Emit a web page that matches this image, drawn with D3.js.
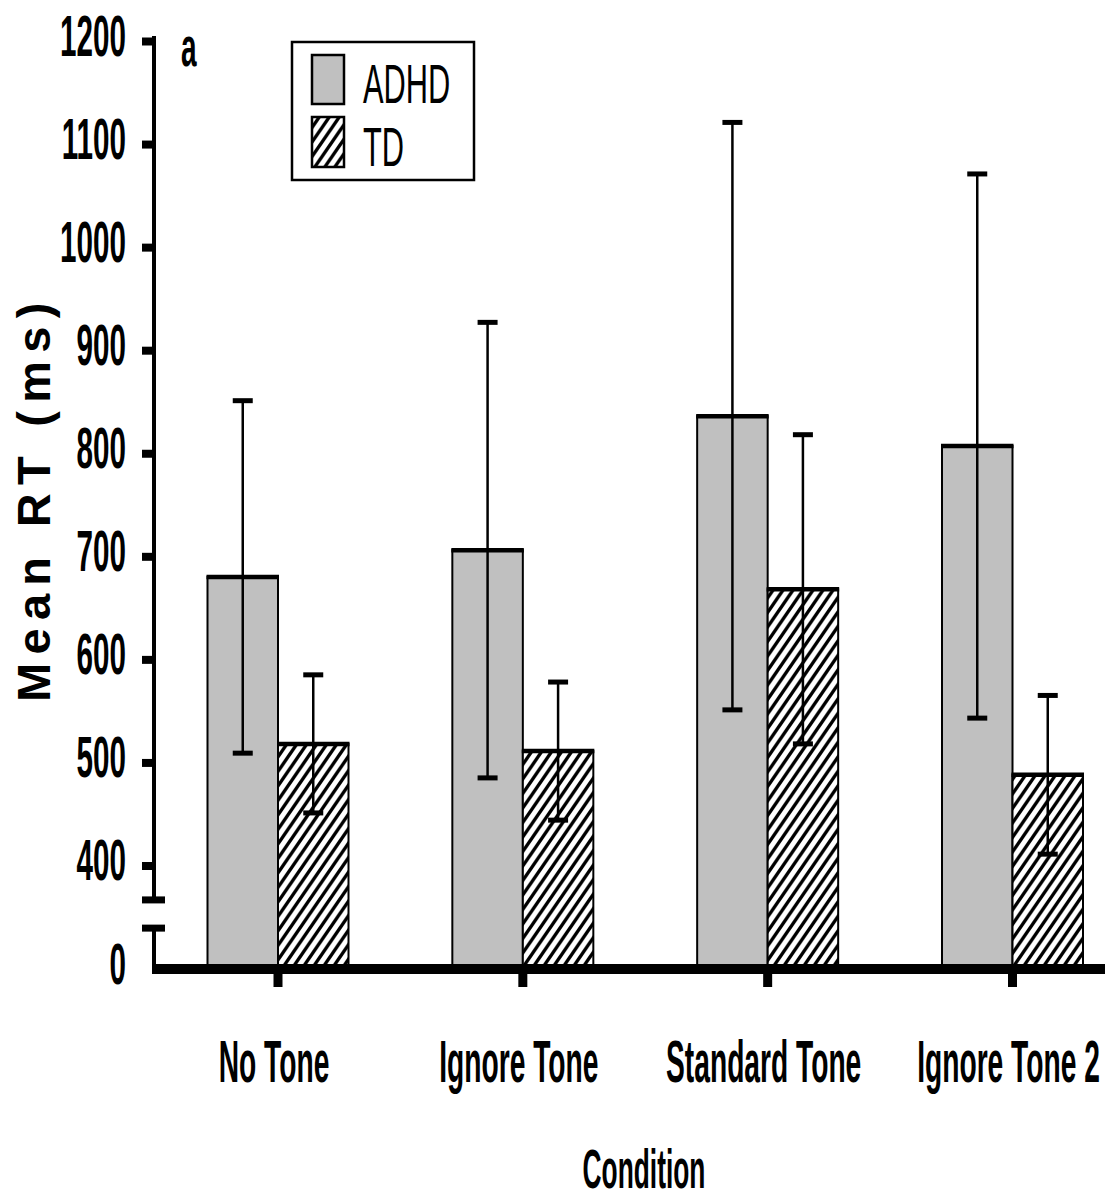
<!DOCTYPE html>
<html><head><meta charset="utf-8">
<script src="https://cdn.jsdelivr.net/npm/d3@7"></script>
<style>body{margin:0;background:#fff}svg{display:block}text{font-family:"Liberation Sans",Arial,sans-serif}</style>
</head><body><svg id="c" width="1118" height="1201"></svg>
<script>
const categories = ["No Tone", "Ignore Tone", "Standard Tone", "Ignore Tone 2"];
const series = ["ADHD", "TD"];
const adhdMean = [680, 706, 836, 807];
const adhdErr  = [171, 221, 285, 264];
const tdMean   = [518, 511, 668, 488];
const tdErr    = [67, 67, 150, 77];
const yTicks = [0, 400, 500, 600, 700, 800, 900, 1000, 1100, 1200];
const breakLow = 158, breakHigh = 267;

const svg = d3.select("#c");
const y = d3.scaleLinear().domain([0, 400, 1200]).range([969, 865.5, 41]);
const x = d3.scalePoint().domain(categories).range([278, 1012.5]);
const xs = d3.scaleBand().domain(series).range([-70.5, 70.5]);
const bw = xs.bandwidth();

// hatch pattern
const defs = svg.append("defs");
const pat = defs.append("pattern").attr("id","hatch").attr("patternUnits","userSpaceOnUse")
  .attr("width",10).attr("height",10).attr("patternTransform","scale(1,1.45)");
pat.append("rect").attr("width",10).attr("height",10).attr("fill","#fff");
pat.append("path").attr("d","M0,10 L10,0 M-2.5,2.5 L2.5,-2.5 M7.5,12.5 L12.5,7.5")
  .attr("stroke","#000").attr("stroke-width",2.9);

const data = [];
categories.forEach((c,i)=>{
  data.push({cat:c, s:"ADHD", m:adhdMean[i], e:adhdErr[i]});
  data.push({cat:c, s:"TD", m:tdMean[i], e:tdErr[i]});
});
const fillOf = s => s==="ADHD" ? "#c0c0c0" : "url(#hatch)";

// bars
const g = svg.append("g");
g.selectAll("rect.bar").data(data).join("rect").attr("class","bar")
  .attr("x", d=>x(d.cat)+xs(d.s)).attr("width", bw)
  .attr("y", d=>y(d.m)).attr("height", d=>y(0)-y(d.m))
  .attr("fill", d=>fillOf(d.s)).attr("stroke","#000").attr("stroke-width",2);
g.selectAll("line.top").data(data).join("line").attr("class","top")
  .attr("x1", d=>x(d.cat)+xs(d.s)-1).attr("x2", d=>x(d.cat)+xs(d.s)+bw+1)
  .attr("y1", d=>y(d.m)).attr("y2", d=>y(d.m)).attr("stroke","#000").attr("stroke-width",4.5);

// error bars
const eb = svg.append("g");
const cx = d=>x(d.cat)+xs(d.s)+bw/2;
eb.selectAll("line.v").data(data).join("line")
  .attr("x1",cx).attr("x2",cx).attr("y1",d=>y(d.m+d.e)).attr("y2",d=>y(d.m-d.e))
  .attr("stroke","#000").attr("stroke-width",2.5);
eb.selectAll("line.cu").data(data).join("line")
  .attr("x1",d=>cx(d)-10).attr("x2",d=>cx(d)+10).attr("y1",d=>y(d.m+d.e)).attr("y2",d=>y(d.m+d.e))
  .attr("stroke","#000").attr("stroke-width",5);
eb.selectAll("line.cl").data(data).join("line")
  .attr("x1",d=>cx(d)-10).attr("x2",d=>cx(d)+10).attr("y1",d=>y(d.m-d.e)).attr("y2",d=>y(d.m-d.e))
  .attr("stroke","#000").attr("stroke-width",5);

// y axis
const ya = svg.append("g").attr("transform","translate(154,0)")
  .call(d3.axisLeft(y).tickValues(yTicks).tickSize(12).tickFormat(d3.format("d")));
ya.select(".domain").remove();
ya.selectAll(".tick line").attr("stroke","#000").attr("stroke-width",8)
  .attr("display", d=>d===0 ? "none" : null);
ya.selectAll(".tick text").attr("x",null).attr("dy",null).attr("fill","#000")
  .attr("font-size",57).attr("font-weight","bold").attr("text-anchor","end")
  .attr("font-family","'Liberation Sans',Arial,sans-serif")
  .attr("transform","translate(-28,14) scale(0.52,1)");
ya.append("line").attr("x1",0).attr("x2",0).attr("y1",y(1200)-5).attr("y2",y(breakHigh)).attr("stroke","#000").attr("stroke-width",4);
ya.append("line").attr("x1",0).attr("x2",0).attr("y1",y(breakLow)).attr("y2",y(0)).attr("stroke","#000").attr("stroke-width",4);
[breakHigh, breakLow].forEach(v=>{
  ya.append("line").attr("x1",-12).attr("x2",11).attr("y1",y(v)).attr("y2",y(v)).attr("stroke","#000").attr("stroke-width",7);
});

// baseline + category ticks
svg.append("line").attr("x1",152).attr("x2",1105).attr("y1",y(0)).attr("y2",y(0)).attr("stroke","#000").attr("stroke-width",10);
svg.selectAll("line.xt").data(categories).join("line").attr("class","xt")
  .attr("x1",d=>x(d)).attr("x2",d=>x(d)).attr("y1",y(0)).attr("y2",y(0)+18)
  .attr("stroke","#000").attr("stroke-width",9);

// category labels
svg.selectAll("text.cat").data(categories).join("text").attr("class","cat")
  .attr("transform",d=>`translate(${x(d)-4},1082) scale(0.47,1)`)
  .attr("text-anchor","middle").attr("font-size",60).attr("font-weight","bold").text(d=>d);

// x title
svg.append("text").attr("transform","translate(644,1188) scale(0.47,1)")
  .attr("text-anchor","middle").attr("font-size",56).attr("font-weight","bold").text("Condition");

// y title
svg.append("text").attr("transform","translate(50,702) rotate(-90)")
  .attr("text-anchor","start").attr("font-size",47).attr("font-weight","bold")
  .style("letter-spacing","8.3px")
  .text("Mean RT (ms)");

// panel label
svg.append("text").attr("transform","translate(181,66) scale(0.5,1)")
  .attr("font-size",56).attr("font-weight","bold").text("a");

// legend
const lg = svg.append("g");
lg.append("rect").attr("x",292).attr("y",42).attr("width",182).attr("height",138)
  .attr("fill","#fff").attr("stroke","#000").attr("stroke-width",2.5);
const ly = {ADHD:[55,104], TD:[117,167]};
series.forEach(s=>{
  lg.append("rect").attr("x",312).attr("y",ly[s][0]).attr("width",32).attr("height",ly[s][1]-ly[s][0])
    .attr("fill",fillOf(s)).attr("stroke","#000").attr("stroke-width",2.5);
  lg.append("text").attr("transform",`translate(363,${ly[s][1]-1}) scale(0.55,1)`)
    .attr("font-size",56).text(s);
});
</script></body></html>
